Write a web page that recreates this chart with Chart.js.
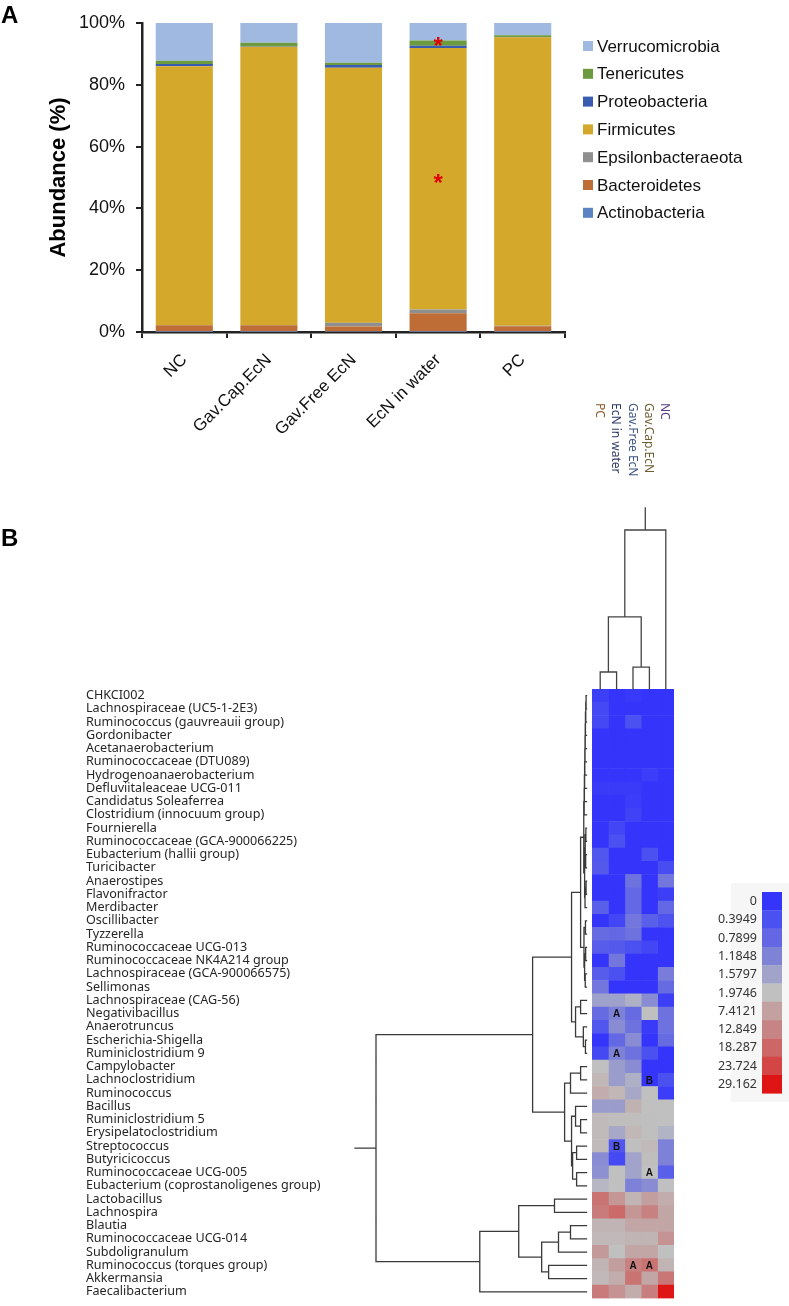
<!DOCTYPE html>
<html>
<head>
<meta charset="utf-8">
<script src="https://cdn.jsdelivr.net/npm/chart.js@4.4.1/dist/chart.umd.min.js"></script>
<style>
  html, body { margin: 0; padding: 0; background: #fff; }
  #page { position: relative; width: 789px; height: 1306px; overflow: hidden; }
  canvas { position: absolute; left: 0; top: 0; }
  .panel { position: absolute; left: 1px; font: bold 24px "Liberation Sans", Arial, sans-serif; color: #000; line-height: 28px; }
</style>
</head>
<body>
<div id="page">
  <canvas id="heatChart" width="789" height="1306"></canvas>
  <canvas id="phylumChart" width="789" height="480"></canvas>
  <div class="panel" style="top:1px">A</div>
  <div class="panel" style="top:524px">B</div>
</div>
<script>
// ---- panel A: phylum composition ----
const groups = ['NC', 'Gav.Cap.EcN', 'Gav.Free EcN', 'EcN in water', 'PC'];
const phyla = ['Actinobacteria', 'Bacteroidetes', 'Epsilonbacteraeota', 'Firmicutes', 'Proteobacteria', 'Tenericutes', 'Verrucomicrobia'];
const actinobacteria = [0.1, 0.1, 0.2, 0.1, 0.1];
const bacteroidetes = [2.1, 2.1, 1.6, 6.0, 1.8];
const epsilonbacteraeota = [0.1, 0.1, 1.2, 1.2, 0.1];
const firmicutes = [83.7, 90.0, 82.5, 84.6, 93.4];
const proteobacteria = [0.7, 0.2, 0.9, 0.7, 0.1];
const tenericutes = [1.1, 1.1, 0.7, 1.7, 0.5];
const verrucomicrobia = [12.2, 6.4, 12.9, 5.7, 4.0];
const yTicks = [0, 20, 40, 60, 80, 100];
// significance marks (group, abundance %)
const stars = [['EcN in water', 93.6], ['EcN in water', 49.5]];

const phylumColors = ['#5b84c4', '#bd6d35', '#8f8f8f', '#d4a82a', '#3a5cb0', '#6b9a3f', '#a0b9e0'];
const phylumData = [actinobacteria, bacteroidetes, epsilonbacteraeota, firmicutes, proteobacteria, tenericutes, verrucomicrobia];

const ARIAL = '"Liberation Sans", Arial, sans-serif';

const phylumExtras = {
    id: 'phylumExtras',
    afterDraw(chart) {
        const { ctx, scales: { x, y } } = chart;
        ctx.save();
        // red asterisks
        ctx.fillStyle = '#e00000';
        ctx.font = 'bold 24px ' + ARIAL;
        ctx.textAlign = 'center';
        ctx.textBaseline = 'middle';
        stars.forEach(([g, v]) => {
            ctx.fillText('*', x.getPixelForValue(groups.indexOf(g)), y.getPixelForValue(v) + 5);
        });
        // legend, top item = last stacked series
        ctx.font = '17px ' + ARIAL;
        ctx.textAlign = 'left';
        ctx.fillStyle = '#111';
        for (let i = 0; i < phyla.length; i++) {
            const k = phyla.length - 1 - i;
            const cy = 46 + i * 27.8;
            ctx.fillStyle = phylumColors[k];
            ctx.fillRect(583, cy - 5, 10, 10);
            ctx.fillStyle = '#111';
            ctx.fillText(phyla[k], 597, cy + 1);
        }
        ctx.restore();
    }
};

new Chart(document.getElementById('phylumChart'), {
    type: 'bar',
    data: {
        labels: groups,
        datasets: phyla.map((p, i) => ({
            label: p,
            data: phylumData[i],
            backgroundColor: phylumColors[i],
            borderWidth: 0,
            barPercentage: 0.675,
            categoryPercentage: 1
        }))
    },
    options: {
        responsive: false,
        animation: false,
        layout: { padding: { left: 46, right: 224, top: 23, bottom: 0 } },
        plugins: { legend: { display: false }, tooltip: { enabled: false } },
        scales: {
            x: {
                stacked: true,
                grid: { display: true, drawOnChartArea: false, tickLength: 6, color: '#222', lineWidth: 2, offset: true },
                border: { display: true, color: '#222', width: 2.5 },
                ticks: { color: '#111', font: { family: ARIAL, size: 17 }, minRotation: 45, maxRotation: 45, padding: 12, autoSkip: false },
                afterFit(scale) { scale.height = 148; }
            },
            y: {
                stacked: true,
                min: 0,
                max: 100,
                afterBuildTicks(scale) { scale.ticks = yTicks.map(v => ({ value: v })); },
                ticks: { callback: v => v + '%', color: '#111', font: { family: ARIAL, size: 18 }, padding: 11 },
                grid: { drawOnChartArea: false, tickLength: 6, color: '#222', lineWidth: 2 },
                border: { color: '#222', width: 2.5 },
                title: { display: true, text: 'Abundance (%)', color: '#000', font: { family: ARIAL, size: 22, weight: 'bold' }, padding: 0 },
                afterFit(scale) { scale.width = 96; }
            }
        }
    },
    plugins: [phylumExtras]
});

// ---- panel B: genus heatmap ----
const heatColumns = ['PC', 'EcN in water', 'Gav.Free EcN', 'Gav.Cap.EcN', 'NC'];
const genera = [
    'CHKCI002', 'Lachnospiraceae (UC5-1-2E3)', 'Ruminococcus (gauvreauii group)', 'Gordonibacter',
    'Acetanaerobacterium', 'Ruminococcaceae (DTU089)', 'Hydrogenoanaerobacterium', 'Defluviitaleaceae UCG-011',
    'Candidatus Soleaferrea', 'Clostridium (innocuum group)', 'Fournierella', 'Ruminococcaceae (GCA-900066225)',
    'Eubacterium (hallii group)', 'Turicibacter', 'Anaerostipes', 'Flavonifractor', 'Merdibacter', 'Oscillibacter',
    'Tyzzerella', 'Ruminococcaceae UCG-013', 'Ruminococcaceae NK4A214 group', 'Lachnospiraceae (GCA-900066575)',
    'Sellimonas', 'Lachnospiraceae (CAG-56)', 'Negativibacillus', 'Anaerotruncus', 'Escherichia-Shigella',
    'Ruminiclostridium 9', 'Campylobacter', 'Lachnoclostridium', 'Ruminococcus', 'Bacillus', 'Ruminiclostridium 5',
    'Erysipelatoclostridium', 'Streptococcus', 'Butyricicoccus', 'Ruminococcaceae UCG-005',
    'Eubacterium (coprostanoligenes group)', 'Lactobacillus', 'Lachnospira', 'Blautia', 'Ruminococcaceae UCG-014',
    'Subdoligranulum', 'Ruminococcus (torques group)', 'Akkermansia', 'Faecalibacterium'
];
// one row per genus, columns in heatColumns order
const abundance = [
    [0.15, 0, 0.08, 0, 0], [0.3, 0, 0, 0, 0], [0.3, 0, 0.4, 0, 0], [0, 0, 0, 0, 0],
    [0, 0, 0, 0, 0], [0, 0, 0, 0, 0], [0, 0, 0, 0.12, 0], [0.1, 0.1, 0.1, 0, 0],
    [0, 0, 0.12, 0, 0], [0, 0, 0.2, 0, 0], [0, 0.25, 0, 0, 0], [0, 0.4, 0, 0, 0],
    [0.5, 0, 0, 0.4, 0], [0.55, 0, 0, 0, 0.35], [0, 0, 0.95, 0, 1.0], [0, 0, 0.8, 0, 0.15],
    [0.65, 0, 0.8, 0, 0.8], [0, 0.25, 1.0, 0.65, 0.45], [0.85, 0.8, 0.95, 0, 0], [0.6, 0.55, 0.4, 0.25, 0],
    [0, 1.0, 0, 0, 0], [0.6, 0.4, 0, 0, 1.1], [1.0, 0, 0, 0, 0.85], [1.55, 1.55, 1.75, 1.3, 0.15],
    [0.85, 1.15, 0.85, 1.97, 0.95], [0.5, 1.3, 0.95, 0.1, 0.95], [0, 0.8, 1.3, 0, 0.85], [0.3, 1.15, 0.95, 0.4, 0],
    [1.97, 1.5, 1.3, 0, 0], [3.5, 1.5, 1.75, 0, 0.4], [5.5, 3.5, 1.65, 1.97, 0.12], [1.5, 1.5, 4.5, 1.97, 1.97],
    [3.0, 2.5, 2.5, 2.2, 2.0], [3.0, 1.65, 3.5, 2.2, 1.8], [3.0, 0.5, 2.1, 3.0, 1.15], [1.3, 0.3, 1.58, 2.5, 1.15],
    [1.35, 2.0, 1.58, 2.0, 0.65], [1.85, 2.0, 1.15, 1.3, 2.0], [16, 9.5, 4, 8, 5.5], [14.5, 18, 9.5, 13.5, 6.5],
    [4, 4, 6.5, 6.5, 6.5], [3.2, 3.2, 4, 4, 10], [9, 2.0, 6.5, 6.5, 2.0], [4, 8, 13.5, 16, 4],
    [3.2, 5.5, 16, 6.5, 15.5], [14.5, 10, 5.5, 14, 29]
];
// significance letters: [row, column, letter]
const cellLetters = [[24, 1, 'A'], [27, 1, 'A'], [29, 3, 'B'], [34, 1, 'B'], [36, 3, 'A'], [43, 2, 'A'], [43, 3, 'A']];
// colour key
const heatStops = [0, 0.3949, 0.7899, 1.1848, 1.5797, 1.9746, 7.4121, 12.849, 18.287, 23.724, 29.162];
const heatPalette = ['#3434fb', '#4b50f1', '#6367e4', '#7f83d6', '#a1a3ca', '#c0c0c0', '#c3a1a1', '#c78484', '#cc6767', '#d44545', '#df1515'];
// dendrograms: [height, left, right], leaves are row / column indices
const rowTree = [100,
    [25.6,
        [7.1,
            [2.8,
                [1.3,
                    [1.1, [1.0, [0.9, [0.8, [0.7, [0.6, [0.5, [0.35, [0.2, 0, 1], 2], 3], 4], 5], 6], 7], 8], 9],
                    [0.9, [0.6, [0.3, 10, 11], [0.4, 12, 13]], [0.7, [0.2, 14, 15], 16]]],
                [1.2, [0.5, 17, 18], [0.9, [0.4, 19, 20], [0.6, 21, 22]]]],
            [5.2, [2.8, 23, 24], [1.5, 25, [0.5, 26, 27]]]],
        [10.4,
            [7.6, [2.8, 28, 29], 30],
            [7.1,
                [5.2, 31, [2.8, 32, 33]],
                [6.6, [4.7, 34, 35], [4.7, 36, 37]]]]],
    [50.7,
        [32.2,
            [15.2, 38, 39],
            [21.3, [13.3, [7.6, 40, 41], 42], [18.0, 43, 44]]],
        45]];
const colTree = [100, [45.3, [10.7, 0, 1], [13.8, 2, 3]], 4];

const columnLabelColors = ['#8a5a2e', '#2e3a66', '#3e5686', '#6e5e34', '#5a3c86'];
const NOTO = '"Noto Sans", "Open Sans", sans-serif';

function hexRgb(h) {
    return [1, 3, 5].map(i => parseInt(h.slice(i, i + 2), 16));
}

function heatColor(v) {
    for (let i = 0; i < heatStops.length - 1; i++) {
        if (v <= heatStops[i + 1]) {
            const t = Math.max(0, (v - heatStops[i]) / (heatStops[i + 1] - heatStops[i]));
            const a = hexRgb(heatPalette[i]), b = hexRgb(heatPalette[i + 1]);
            return 'rgb(' + a.map((c, k) => Math.round(c + (b[k] - c) * t)).join(',') + ')';
        }
    }
    return heatPalette[heatPalette.length - 1];
}

// walk a tree, drawing elbows through seg(pos1, height1, pos2, height2)
function drawTree(node, pos, seg) {
    if (typeof node === 'number') return { p: pos(node), h: 0 };
    const [h, l, r] = node;
    const a = drawTree(l, pos, seg);
    const b = drawTree(r, pos, seg);
    seg(a.p, a.h, a.p, h);
    seg(b.p, b.h, b.p, h);
    seg(a.p, h, b.p, h);
    return { p: (a.p + b.p) / 2, h: h };
}

const heatExtras = {
    id: 'heatExtras',
    afterDraw(chart) {
        const { ctx, chartArea: area, scales: { x, y } } = chart;
        ctx.save();

        // cell letters
        ctx.fillStyle = '#111';
        ctx.font = 'bold 10px ' + ARIAL;
        ctx.textAlign = 'center';
        ctx.textBaseline = 'middle';
        cellLetters.forEach(([r, c, t]) => {
            ctx.fillText(t, x.getPixelForValue(c + 0.5), y.getPixelForValue(r) + 1);
        });

        // row dendrogram (left)
        ctx.strokeStyle = '#3a3a3a';
        ctx.lineWidth = 1.3;
        ctx.lineCap = 'square';
        const rx = h => area.left - 5.5 - h * 2.105;
        ctx.beginPath();
        const root = drawTree(rowTree, i => y.getPixelForValue(i), (p1, h1, p2, h2) => {
            ctx.moveTo(rx(h1), p1);
            ctx.lineTo(rx(h2), p2);
        });
        ctx.moveTo(rx(root.h), root.p);
        ctx.lineTo(rx(root.h) - 21, root.p);
        ctx.stroke();

        // column dendrogram (top)
        ctx.strokeStyle = '#444';
        const cy = h => area.top - h * 1.59;
        ctx.beginPath();
        const croot = drawTree(colTree, c => x.getPixelForValue(c + 0.5), (p1, h1, p2, h2) => {
            ctx.moveTo(p1, cy(h1));
            ctx.lineTo(p2, cy(h2));
        });
        ctx.moveTo(croot.p, cy(croot.h));
        ctx.lineTo(croot.p, cy(croot.h) - 22);
        ctx.stroke();

        // column labels, rotated
        ctx.font = '12px ' + NOTO;
        ctx.textAlign = 'left';
        ctx.textBaseline = 'middle';
        heatColumns.forEach((name, c) => {
            ctx.save();
            ctx.translate(x.getPixelForValue(c + 0.5) - 1, 403);
            ctx.rotate(Math.PI / 2);
            ctx.fillStyle = columnLabelColors[c];
            ctx.fillText(name, 0, 0);
            ctx.restore();
        });

        // colour key
        ctx.fillStyle = '#f6f6f6';
        ctx.fillRect(731, 883, 58, 219);
        ctx.font = '12.5px ' + NOTO;
        ctx.textAlign = 'right';
        heatStops.forEach((s, i) => {
            const top = 892 + i * 18.3;
            ctx.fillStyle = heatPalette[i];
            ctx.fillRect(762, top, 20, 18.6);
            ctx.fillStyle = '#333';
            ctx.fillText(String(s), 757, top + 9.5);
        });
        ctx.restore();
    }
};

new Chart(document.getElementById('heatChart'), {
    type: 'bar',
    data: {
        labels: genera,
        datasets: heatColumns.map((col, c) => ({
            label: col,
            data: genera.map(() => 1),
            backgroundColor: abundance.map(row => heatColor(row[c])),
            borderWidth: 0,
            barPercentage: 1,
            categoryPercentage: 1
        }))
    },
    options: {
        indexAxis: 'y',
        responsive: false,
        animation: false,
        layout: { padding: { left: 86, right: 115, top: 689, bottom: 4 } },
        plugins: { legend: { display: false }, tooltip: { enabled: false } },
        scales: {
            x: { stacked: true, min: 0, max: heatColumns.length, display: false },
            y: {
                stacked: true,
                position: 'left',
                grid: { display: false },
                border: { display: false },
                ticks: { crossAlign: 'far', padding: 0, autoSkip: false, color: '#262626', font: { family: NOTO, size: 12.6 } },
                afterFit(scale) { scale.width = 506; }
            }
        }
    },
    plugins: [heatExtras]
});
</script>
</body>
</html>
